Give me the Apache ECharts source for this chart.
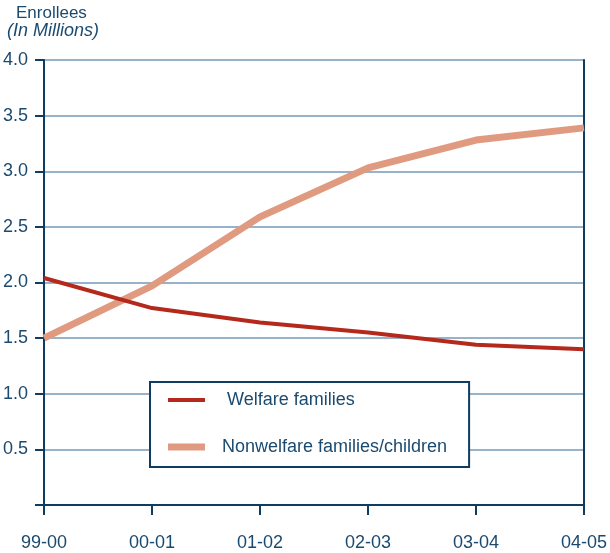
<!DOCTYPE html>
<html>
<head>
<meta charset="utf-8">
<script src="https://cdn.jsdelivr.net/npm/echarts@6/dist/echarts.min.js"></script>
<style>
  html, body { margin: 0; padding: 0; background: #fff; }
  #chart { width: 610px; height: 553px; }
</style>
</head>
<body>
<div id="chart"></div>
<script>
// School-year enrollment, in millions
const schoolYears = ['99-00', '00-01', '01-02', '02-03', '03-04', '04-05'];
const welfareFamilies = [2.04, 1.77, 1.64, 1.55, 1.44, 1.40];
const nonwelfareFamilies = [1.50, 1.97, 2.59, 3.03, 3.28, 3.39];
const yTicks = [0.5, 1.0, 1.5, 2.0, 2.5, 3.0, 3.5, 4.0];

const navy = '#0d3d63';
const textColor = '#1b4a70';
const gridColor = '#97b2c9';
const welfareColor = '#b5281c';
const nonwelfareColor = '#e09a80';
const font = 'Liberation Sans, Arial, sans-serif';

const chart = echarts.init(document.getElementById('chart'));
chart.setOption({
  animation: false,
  backgroundColor: '#ffffff',
  grid: { left: 44, right: 24, top: 60, bottom: 48 },
  graphic: [
    { type: 'text', left: 16, top: 5,
      style: { text: 'Enrollees', fill: textColor, font: '17px ' + font } },
    { type: 'text', left: 7, top: 22,
      style: { text: '(In Millions)', fill: textColor, font: 'italic 18px ' + font } }
  ],
  legend: {
    orient: 'vertical',
    left: 150, top: 382,
    backgroundColor: '#ffffff',
    borderColor: navy,
    borderWidth: 2,
    padding: [9, 22, 11, 18],
    itemWidth: 37, itemHeight: 8,
    itemGap: 29,
    z: 10,
    textStyle: { color: textColor, fontSize: 18, fontFamily: font },
    data: [
      { name: 'Welfare families', icon: 'path://M0,0L37,0L37,4L0,4Z',
        textStyle: { padding: [0, 0, 0, 17] } },
      { name: 'Nonwelfare families/children', icon: 'path://M0,0L37,0L37,7L0,7Z',
        textStyle: { padding: [0, 0, 0, 12] } }
    ]
  },
  xAxis: [{
    type: 'category',
    data: schoolYears,
    boundaryGap: false,
    axisLine: { lineStyle: { color: navy, width: 2 } },
    axisTick: { show: true, length: 10, alignWithLabel: true, lineStyle: { color: navy, width: 2 } },
    axisLabel: { color: textColor, fontSize: 18, fontFamily: font, margin: 29, showMaxLabel: true, showMinLabel: true },
    splitLine: { show: false }
  }, {
    type: 'category',
    data: schoolYears,
    boundaryGap: false,
    position: 'top',
    axisLine: { lineStyle: { color: navy, width: 2 } },
    axisTick: { show: false },
    axisLabel: { show: false }
  }],
  yAxis: [{
    type: 'value',
    min: 0, max: 4, interval: 0.5,
    axisLine: { show: true, lineStyle: { color: navy, width: 2 } },
    axisTick: { show: true, length: 9, lineStyle: { color: navy, width: 2 } },
    axisLabel: {
      color: textColor, fontSize: 18, fontFamily: font, margin: 16,
      formatter: v => (yTicks.indexOf(v) >= 0 ? v.toFixed(1) : '')
    },
    splitLine: { show: true, lineStyle: { color: gridColor, width: 2 } }
  }, {
    type: 'value',
    min: 0, max: 4, interval: 0.5,
    position: 'right',
    axisLine: { show: true, lineStyle: { color: navy, width: 2 } },
    axisTick: { show: false },
    axisLabel: { show: false },
    splitLine: { show: false }
  }],
  series: [{
    name: 'Welfare families',
    type: 'line',
    data: welfareFamilies,
    symbol: 'none',
    z: 4,
    lineStyle: { color: welfareColor, width: 4 },
    itemStyle: { color: welfareColor }
  }, {
    name: 'Nonwelfare families/children',
    type: 'line',
    data: nonwelfareFamilies,
    symbol: 'none',
    z: 3,
    lineStyle: { color: nonwelfareColor, width: 7 },
    itemStyle: { color: nonwelfareColor }
  }]
});
</script>
</body>
</html>
